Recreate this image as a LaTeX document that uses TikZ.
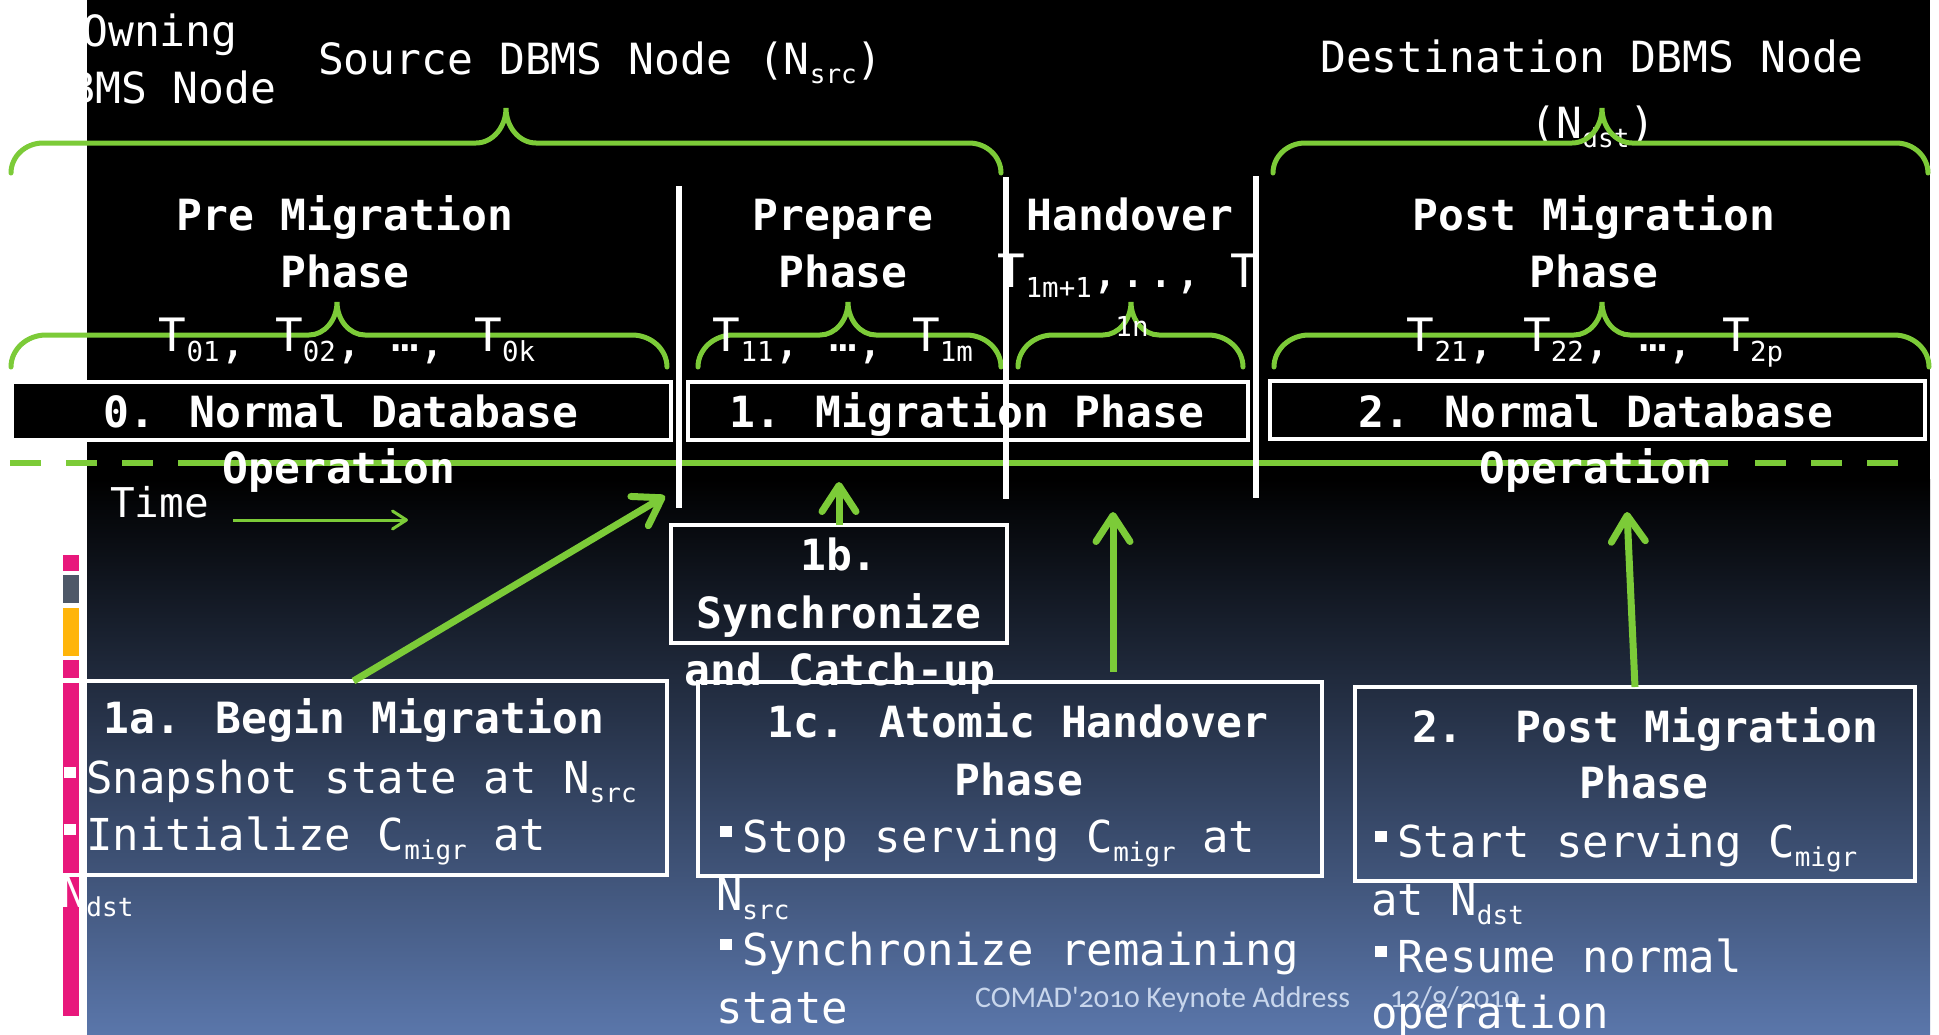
\documentclass[tikz,border=0pt]{standalone}
\usepackage{fontspec}
\usetikzlibrary{arrows.meta}
\newfontfamily\monofam{DejaVu Sans Mono}
\newfontfamily\footfam[Numbers=OldStyle]{Carlito}
\definecolor{mgreen}{RGB}{124,203,56}
\definecolor{slideblue}{RGB}{90,118,170}
\definecolor{barpink}{RGB}{232,24,124}
\definecolor{bargray}{RGB}{78,88,104}
\definecolor{barorange}{RGB}{255,181,10}
\definecolor{footblue}{RGB}{200,214,236}

% lowered small text for indices
\newcommand\lsub[1]{\raisebox{-0.22em}{\fontsize{26}{30}\selectfont #1}}
\newcommand\tsub[1]{\raisebox{-0.22em}{\fontsize{27.5}{30}\selectfont #1}}
\newcommand\tcm{\raisebox{-0.15em}{,}}
% square bullet
\newcommand\blt{\makebox[0.6em][l]{\hspace{0.1em}\rule[0.33em]{0.27em}{0.27em}}}

% green curly brace, point upwards
% #1 left x, #2 right x, #3 tip x, #4 line y, #5 end y, #6 tip y, #7 end width, #8 tip width
\newcommand\gbrace[8]{%
  \draw[gbr] ({#1},{#5}) .. controls ({#1},{#5-0.55*(#5-#4)}) and ({#1+0.45*#7},{#4}) .. ({#1+#7},{#4})
    -- ({#3-#8},{#4}) .. controls ({#3-0.45*#8},{#4}) and ({#3},{#4-0.45*(#4-#6)}) .. ({#3},{#6})
    .. controls ({#3},{#4-0.45*(#4-#6)}) and ({#3+0.45*#8},{#4}) .. ({#3+#8},{#4})
    -- ({#2-#7},{#4}) .. controls ({#2-0.45*#7},{#4}) and ({#2},{#5-0.55*(#5-#4)}) .. ({#2},{#5});}

\begin{document}
\begin{tikzpicture}[x=1pt,y=-1pt,
  every node/.style={inner sep=0pt, outer sep=0pt, text=white},
  lbl/.style={font=\monofam\fontsize{43}{50}\selectfont},
  hdr/.style={font=\monofam\bfseries\fontsize{43}{50}\selectfont, anchor=base},
  bul/.style={font=\monofam\fontsize{44}{50}\selectfont, anchor=base west},
  tlab/.style={font=\monofam\fontsize{46}{52}\selectfont, anchor=base},
  gbr/.style={draw=mgreen, line width=5pt, line cap=round},
  sepline/.style={draw=white, line width=6pt},
  tline/.style={draw=mgreen, line width=6pt},
  pbox/.style={draw=white, fill=black, line width=3.5pt, anchor=north west},
  sbox/.style={draw=white, line width=3.5pt, anchor=north west},
  garrow/.style={draw=mgreen, line width=7pt, -{Straight Barb[length=26pt,width=34pt,round]}},
  tarrow/.style={draw=mgreen, line width=3pt, -{Straight Barb[length=14pt,width=18pt,round]}}]

\useasboundingbox (0,0) rectangle (1939,1034);
% page and slide background
\fill[white] (0,0) rectangle (1939,1034);
\fill[black] (87,0) rectangle (1930,480);
\shade[top color=black, bottom color=slideblue] (87,479) rectangle (1930,1034);

% side colour bars
\fill[barpink] (63,555) rectangle (79,571);
\fill[bargray] (63,575) rectangle (79,603);
\fill[barorange] (63,608) rectangle (79,656);
\fill[barpink] (63,660) rectangle (79,678);
\fill[barpink] (63,682) rectangle (79,1016);

% node labels on top
\node[lbl, anchor=base] (own1) at (160,46) {Owning};
\node[lbl, anchor=base] (own2) at (160,103) {DBMS Node};
\node[lbl, anchor=base west] (srcL) at (318,74) {Source DBMS Node (N\lsub{src})};
\node[lbl, anchor=base] (dst1) at (1592,72) {Destination DBMS Node};
\node[lbl, anchor=base] (dst2) at (1593,138) {(N\lsub{dst})};

% braces
\gbrace{11}{1001}{506}{143}{173}{108}{32}{30}
\gbrace{1273}{1928}{1602}{143}{173}{108}{32}{30}
\gbrace{11}{667}{337}{335}{367}{302}{35}{28}
\gbrace{698}{1001}{848}{335}{367}{302}{35}{28}
\gbrace{1018}{1243}{1131}{335}{367}{302}{35}{28}
\gbrace{1274}{1929}{1602}{335}{367}{302}{35}{28}

% phase boxes
\node[pbox, minimum width=659pt, minimum height=58pt] (ph0) at (12,382) {};
\node[pbox, minimum width=560pt, minimum height=58pt] (ph1) at (688,382) {};
\node[pbox, minimum width=655pt, minimum height=58pt] (ph2) at (1270,381) {};

% time line
\draw[tline, dash pattern=on 31pt off 25pt] (10,463) -- (178,463);
\draw[tline] (178,463) -- (1728,463);
\draw[tline, dash pattern=on 31pt off 25pt] (1755,463) -- (1898,463);

% phase separators
\draw[sepline] (679,186) -- (679,508);
\draw[sepline] (1006,177) -- (1006,499);
\draw[sepline] (1256,176) -- (1256,498);

% phase headings
\node[hdr] (preH1) at (345,230) {Pre Migration};
\node[hdr] (preH2) at (345,287) {Phase};
\node[hdr] (prpH1) at (843,230) {Prepare};
\node[hdr] (prpH2) at (843,287) {Phase};
\node[hdr] (hndH) at (1130,230) {Handover};
\node[hdr] (pstH1) at (1594,230) {Post Migration};
\node[hdr] (pstH2) at (1594,287) {Phase};

% transactions of each phase
\node[tlab] (tl0) at (347,351) {T\tsub{01}\tcm{} T\tsub{02}\tcm{} …\tcm{} T\tsub{0k}};
\node[tlab] (tl1) at (843,351) {T\tsub{11}\tcm{} …\tcm{} T\tsub{1m}};
\node[tlab] (tlh1) at (1128,287) {T\tsub{1m+1},.., T};
\node[anchor=base, font=\monofam\fontsize{27.5}{30}\selectfont] (tlh2) at (1132,336) {1n};
\node[tlab] (tl2) at (1595,351) {T\tsub{21}\tcm{} T\tsub{22}\tcm{} …\tcm{} T\tsub{2p}};

% phase box texts
\node[hdr] (ph0a) at (341,427) {0. Normal Database};
\node[hdr] (ph0b) at (339,483) {Operation};
\node[hdr] (ph1a) at (967,427) {1. Migration Phase};
\node[hdr] (ph2a) at (1596,427) {2. Normal Database};
\node[hdr] (ph2b) at (1596,483) {Operation};

% time label
\node[anchor=base west, font=\monofam\fontsize{41}{48}\selectfont] (timeL) at (110,517) {Time};
\coordinate (ta0) at (233,520);
\coordinate (ta1) at (408,520);
\draw[tarrow] (ta0) -- (ta1);

% step boxes
\node[sbox, minimum width=336pt, minimum height=118pt] (b1b) at (671,525) {};
\node[sbox, minimum width=627pt, minimum height=194pt] (b1a) at (40,681) {};
\node[sbox, minimum width=624pt, minimum height=194pt] (b1c) at (698,682) {};
\node[sbox, minimum width=560pt, minimum height=194pt] (b2) at (1355,687) {};

% footer
\node[anchor=base west, font=\footfam\fontsize{30}{34}\selectfont, text=footblue] (foot1) at (975,1007) {COMAD'2010 Keynote Address};
\node[anchor=base west, font=\footfam\fontsize{30}{34}\selectfont, text=footblue] (foot2) at (1390,1007) {12/9/2010};

% step 1b
\node[hdr] (b1bt1) at (839,570) {1b.};
\node[hdr] (b1bt2) at (839,628) {Synchronize};
\node[hdr] (b1bt3) at (840,685) {and Catch-up};

% step 1a
\node[hdr] (b1at) at (354,733) {1a. Begin Migration};
\node[bul] (b1a1) at (60,793) {\blt Snapshot state at N\lsub{src}};
\node[bul] (b1a2) at (60,850) {\blt Initialize C\lsub{migr} at};
\node[bul] (b1a3) at (60,907) {N\lsub{dst}};

% step 1c
\node[hdr] (b1ct1) at (1018,737) {1c. Atomic Handover};
\node[hdr] (b1ct2) at (1019,795) {Phase};
\node[bul] (b1c1) at (716,852) {\blt Stop serving C\lsub{migr} at};
\node[bul] (b1c2) at (716,910) {N\lsub{src}};
\node[bul] (b1c3) at (716,965) {\blt Synchronize remaining};
\node[bul] (b1c4) at (716,1023) {state};

% step 2
\node[hdr] (b2t1) at (1645,742) {2.~~Post Migration};
\node[hdr] (b2t2) at (1644,798) {Phase};
\node[bul] (b21) at (1371,857) {\blt Start serving C\lsub{migr}};
\node[bul] (b22) at (1371,915) {at N\lsub{dst}};
\node[bul] (b23) at (1371,972) {\blt Resume normal};
\node[bul] (b24) at (1371,1028) {operation};

% arrows from the steps to the time line
\coordinate (tipA) at (665,496);
\coordinate (tipB) at (839,482);
\coordinate (footC) at (1113,672);
\coordinate (tipC) at (1113,512);
\coordinate (tipD) at (1627,512);
\draw[garrow] (b1a.north) -- (tipA);
\draw[garrow] (b1b.north) -- (tipB);
\draw[garrow] (footC) -- (tipC);
\draw[garrow] (b2.north) -- (tipD);
\end{tikzpicture}
\end{document}
